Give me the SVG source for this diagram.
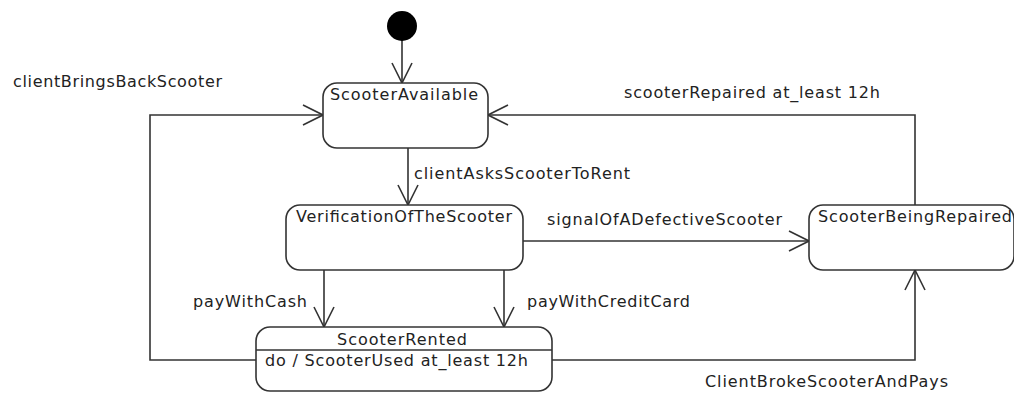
<svg xmlns="http://www.w3.org/2000/svg" width="1014" height="394" viewBox="0 0 1014 394">
<style>
.st{fill:#fff;stroke:#333;stroke-width:1.6}
.ln{fill:none;stroke:#333;stroke-width:1.6}
text{font-family:"DejaVu Sans","Liberation Sans",sans-serif;font-size:16px;fill:#222}
</style>
<defs>
<marker id="ah" viewBox="0 0 22 22" refX="21" refY="11" markerWidth="22" markerHeight="22" markerUnits="userSpaceOnUse" orient="auto">
<path d="M1,1 L21,11 L1,21" fill="none" stroke="#333" stroke-width="1.6"/>
</marker>
</defs>
<rect width="1014" height="394" fill="#fff"/>
<g id="connectors">
<line class="ln" x1="402" y1="40" x2="402" y2="83" marker-end="url(#ah)"/>
<line class="ln" x1="408" y1="148" x2="408" y2="205" marker-end="url(#ah)"/>
<line class="ln" x1="523" y1="241" x2="809" y2="241" marker-end="url(#ah)"/>
<line class="ln" x1="324" y1="270" x2="324" y2="327" marker-end="url(#ah)"/>
<line class="ln" x1="504" y1="270" x2="504" y2="327" marker-end="url(#ah)"/>
<polyline class="ln" points="256,360 150,360 150,115 323,115" marker-end="url(#ah)"/>
<polyline class="ln" points="915,205 915,115 488,115" marker-end="url(#ah)"/>
<polyline class="ln" points="552,360 915,360 915,270" marker-end="url(#ah)"/>
<text x="13" y="87" textLength="209" lengthAdjust="spacing">clientBringsBackScooter</text>
<text x="624" y="98" textLength="256" lengthAdjust="spacing">scooterRepaired at_least 12h</text>
<text x="414" y="179" textLength="216" lengthAdjust="spacing">clientAsksScooterToRent</text>
<text x="547" y="225" textLength="235" lengthAdjust="spacing">signalOfADefectiveScooter</text>
<text x="193" y="307" textLength="114" lengthAdjust="spacing">payWithCash</text>
<text x="527" y="307" textLength="163" lengthAdjust="spacing">payWithCreditCard</text>
<text x="705" y="387" textLength="243" lengthAdjust="spacing">ClientBrokeScooterAndPays</text>
</g>
<g id="initial">
<circle cx="402" cy="26" r="15" fill="#000"/>
</g>
<g id="ScooterAvailable">
<rect class="st" x="323" y="83" width="165" height="65" rx="14"/>
<text x="330" y="100" textLength="148" lengthAdjust="spacing">ScooterAvailable</text>
</g>
<g id="VerificationOfTheScooter">
<rect class="st" x="286" y="205" width="237" height="65" rx="14"/>
<text x="296" y="222" textLength="216" lengthAdjust="spacing">VerificationOfTheScooter</text>
</g>
<g id="ScooterBeingRepaired">
<rect class="st" x="809" y="205" width="205" height="65" rx="14"/>
<text x="818" y="222" textLength="194" lengthAdjust="spacing">ScooterBeingRepaired</text>
</g>
<g id="ScooterRented">
<rect class="st" x="256" y="327" width="296" height="64" rx="14"/>
<line class="ln" x1="256" y1="350" x2="552" y2="350"/>
<text x="337" y="345" textLength="130" lengthAdjust="spacing">ScooterRented</text>
<text x="265" y="366" textLength="263" lengthAdjust="spacing">do / ScooterUsed at_least 12h</text>
</g>
</svg>
